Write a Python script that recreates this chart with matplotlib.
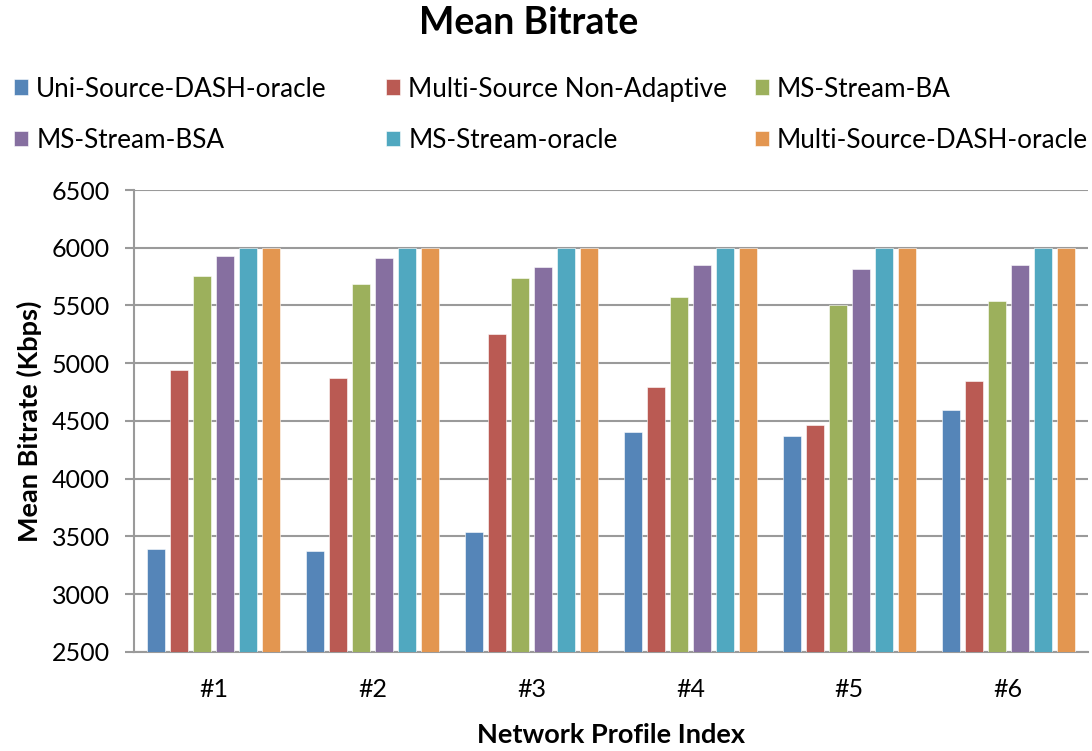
import numpy as np
import matplotlib
matplotlib.use('Agg')
import matplotlib.pyplot as plt

# --- データ ---
profiles = ['#1', '#2', '#3', '#4', '#5', '#6']
series_names = ['Uni-Source-DASH-oracle', 'Multi-Source Non-Adaptive', 'MS-Stream-BA',
                'MS-Stream-BSA', 'MS-Stream-oracle', 'Multi-Source-DASH-oracle']
uni_dash_oracle = [3390, 3372, 3535, 4407, 4370, 4592]
multi_non_adaptive = [4945, 4870, 5257, 4796, 4465, 4850]
ms_stream_ba = [5759, 5683, 5742, 5572, 5500, 5535]
ms_stream_bsa = [5928, 5910, 5834, 5852, 5814, 5852]
ms_stream_oracle = [6000, 6000, 6000, 6000, 6000, 6000]
multi_dash_oracle = [6000, 6000, 6000, 6000, 6000, 6000]
yticks = [2500, 3000, 3500, 4000, 4500, 5000, 5500, 6000, 6500]

colors = ['#5585B8', '#BA5A53', '#9CB05C', '#866FA0', '#50A8C0', '#E39650']
all_series = [uni_dash_oracle, multi_non_adaptive, ms_stream_ba,
              ms_stream_bsa, ms_stream_oracle, multi_dash_oracle]

plt.rcParams['font.family'] = ['Lato', 'DejaVu Sans']
grid_color = '#9A9A9A'

fig = plt.figure(figsize=(10.92, 7.51), dpi=100)
ax = fig.add_axes([0.123, 0.132, 0.873, 0.615])

x = np.arange(len(profiles))
pitch = 0.145
width = 0.113
handles = []
for i, (vals, c) in enumerate(zip(all_series, colors)):
    offs = (i - 2.5) * pitch
    b = ax.bar(x + offs, np.array(vals) - 2500, width, bottom=2500, color=c,
               edgecolor='white', linewidth=0.4, zorder=3, label=series_names[i])
    handles.append(b)

ax.set_xlim(-0.5, len(profiles) - 0.5)
ax.set_ylim(2500, 6500)
ax.set_yticks(yticks)
ax.set_yticklabels([str(t) for t in yticks], fontsize=18)
ax.set_xticks(x)
ax.set_xticklabels(profiles, fontsize=18)
ax.tick_params(axis='x', length=0, pad=19)
ax.tick_params(axis='y', direction='out', length=6.5, width=1.5, color=grid_color, pad=11)
ax.yaxis.grid(True, color=grid_color, linewidth=1.5, zorder=0)
ax.set_axisbelow(True)
for s in ['top', 'right']:
    ax.spines[s].set_visible(False)
for s in ['left', 'bottom']:
    ax.spines[s].set_color(grid_color)
    ax.spines[s].set_linewidth(1.5)

ax.set_xlabel('Network Profile Index', fontsize=19.5, fontweight='bold', labelpad=16)
ax.set_ylabel('Mean Bitrate (Kbps)', fontsize=19.5, fontweight='bold', labelpad=7)
fig.text(0.484, 0.97, 'Mean Bitrate', ha='center', va='center', fontsize=27, fontweight='bold')

# 凡例：Excel風に列ごとに配置（行優先の並び）
col_x = [0.0128, 0.3535, 0.691]
for k in range(3):
    idx = [k, k + 3]
    leg = fig.legend([handles[i] for i in idx], [series_names[i] for i in idx],
                     loc='upper left', bbox_to_anchor=(col_x[k], 0.898), ncol=1,
                     frameon=False, fontsize=18.8, handlelength=0.55, handleheight=0.55,
                     handletextpad=0.3, labelspacing=1.0, borderpad=0, borderaxespad=0)

fig.savefig('out.png', dpi=100)
